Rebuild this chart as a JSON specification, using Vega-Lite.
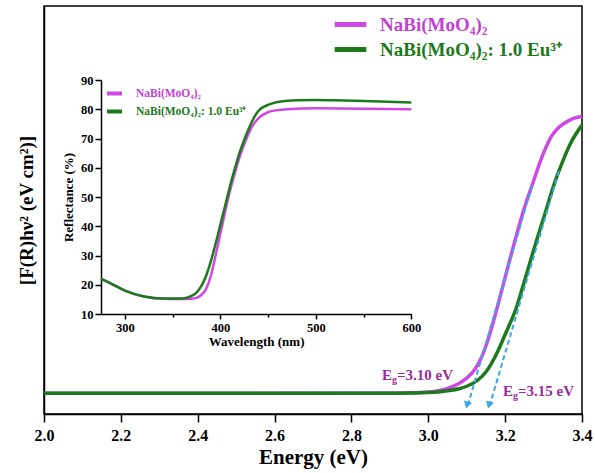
{
  "$schema": "https://vega.github.io/schema/vega-lite/v6.json",
  "width": 538,
  "height": 408,
  "autosize": {"type": "none"},
  "padding": {"left": 44, "top": 6, "right": 13, "bottom": 59},
  "background": "white",
  "config": {
    "view": {"stroke": "black", "strokeWidth": 1.5},
    "axis": {
      "domainColor": "black", "domainWidth": 1.5, "tickColor": "black", "tickWidth": 1.5,
      "labelFont": "Liberation Serif", "labelFontWeight": "bold", "labelColor": "black",
      "titleFont": "Liberation Serif", "titleFontWeight": "bold", "titleColor": "black",
      "grid": false
    },
    "legend": {"labelFont": "Liberation Serif", "labelFontWeight": "bold"},
    "text": {"font": "Liberation Serif", "fontWeight": "bold"}
  },
  "datasets": {
    "main": [
      {"s": "NaBi(MoO₄)₂", "e": 2.0, "f": 5.1},
      {"s": "NaBi(MoO₄)₂", "e": 2.5, "f": 5.1},
      {"s": "NaBi(MoO₄)₂", "e": 2.9, "f": 5.15},
      {"s": "NaBi(MoO₄)₂", "e": 2.95, "f": 5.2},
      {"s": "NaBi(MoO₄)₂", "e": 3.0, "f": 5.4},
      {"s": "NaBi(MoO₄)₂", "e": 3.03, "f": 5.8},
      {"s": "NaBi(MoO₄)₂", "e": 3.05, "f": 6.3},
      {"s": "NaBi(MoO₄)₂", "e": 3.08, "f": 7.5},
      {"s": "NaBi(MoO₄)₂", "e": 3.10, "f": 8.8},
      {"s": "NaBi(MoO₄)₂", "e": 3.12, "f": 10.8},
      {"s": "NaBi(MoO₄)₂", "e": 3.14, "f": 14.2},
      {"s": "NaBi(MoO₄)₂", "e": 3.16, "f": 19.6},
      {"s": "NaBi(MoO₄)₂", "e": 3.18, "f": 26.3},
      {"s": "NaBi(MoO₄)₂", "e": 3.20, "f": 33.5},
      {"s": "NaBi(MoO₄)₂", "e": 3.23, "f": 44},
      {"s": "NaBi(MoO₄)₂", "e": 3.25, "f": 50.5},
      {"s": "NaBi(MoO₄)₂", "e": 3.27, "f": 56},
      {"s": "NaBi(MoO₄)₂", "e": 3.30, "f": 64},
      {"s": "NaBi(MoO₄)₂", "e": 3.32, "f": 68},
      {"s": "NaBi(MoO₄)₂", "e": 3.34, "f": 70.3},
      {"s": "NaBi(MoO₄)₂", "e": 3.36, "f": 71.6},
      {"s": "NaBi(MoO₄)₂", "e": 3.38, "f": 72.5},
      {"s": "NaBi(MoO₄)₂", "e": 3.40, "f": 72.9},
      {"s": "NaBi(MoO₄)₂: 1.0 Eu³⁺", "e": 2.0, "f": 5.1},
      {"s": "NaBi(MoO₄)₂: 1.0 Eu³⁺", "e": 2.5, "f": 5.1},
      {"s": "NaBi(MoO₄)₂: 1.0 Eu³⁺", "e": 2.9, "f": 5.1},
      {"s": "NaBi(MoO₄)₂: 1.0 Eu³⁺", "e": 2.95, "f": 5.15},
      {"s": "NaBi(MoO₄)₂: 1.0 Eu³⁺", "e": 3.0, "f": 5.25},
      {"s": "NaBi(MoO₄)₂: 1.0 Eu³⁺", "e": 3.05, "f": 5.7},
      {"s": "NaBi(MoO₄)₂: 1.0 Eu³⁺", "e": 3.08, "f": 6.2},
      {"s": "NaBi(MoO₄)₂: 1.0 Eu³⁺", "e": 3.10, "f": 6.8},
      {"s": "NaBi(MoO₄)₂: 1.0 Eu³⁺", "e": 3.13, "f": 8.4},
      {"s": "NaBi(MoO₄)₂: 1.0 Eu³⁺", "e": 3.15, "f": 10.3},
      {"s": "NaBi(MoO₄)₂: 1.0 Eu³⁺", "e": 3.18, "f": 15.2},
      {"s": "NaBi(MoO₄)₂: 1.0 Eu³⁺", "e": 3.20, "f": 19.5},
      {"s": "NaBi(MoO₄)₂: 1.0 Eu³⁺", "e": 3.23, "f": 26.3},
      {"s": "NaBi(MoO₄)₂: 1.0 Eu³⁺", "e": 3.25, "f": 32.5},
      {"s": "NaBi(MoO₄)₂: 1.0 Eu³⁺", "e": 3.28, "f": 42},
      {"s": "NaBi(MoO₄)₂: 1.0 Eu³⁺", "e": 3.30, "f": 48},
      {"s": "NaBi(MoO₄)₂: 1.0 Eu³⁺", "e": 3.33, "f": 57},
      {"s": "NaBi(MoO₄)₂: 1.0 Eu³⁺", "e": 3.35, "f": 62},
      {"s": "NaBi(MoO₄)₂: 1.0 Eu³⁺", "e": 3.37, "f": 66.3},
      {"s": "NaBi(MoO₄)₂: 1.0 Eu³⁺", "e": 3.40, "f": 70.8}
    ],
    "tangents": [
      {"s": "NaBi(MoO₄)₂", "e1": 3.27, "f1": 56, "e2": 3.104, "f2": 2.5, "tip": 3.101, "tipf": 2.2},
      {"s": "NaBi(MoO₄)₂: 1.0 Eu³⁺", "e1": 3.34, "f1": 59.5, "e2": 3.161, "f2": 2.5, "tip": 3.158, "tipf": 2.2}
    ],
    "notes": [
      {"e": 2.8795, "f": 9.6, "a": "E", "b": "g", "c": "=3.10 eV"},
      {"e": 3.1944, "f": 5.6, "a": "E", "b": "g", "c": "=3.15 eV"}
    ],
    "refl": [
      {"s": "NaBi(MoO₄)₂", "w": 275, "r": 22},
      {"s": "NaBi(MoO₄)₂", "w": 285, "r": 20.5},
      {"s": "NaBi(MoO₄)₂", "w": 300, "r": 18},
      {"s": "NaBi(MoO₄)₂", "w": 320, "r": 16},
      {"s": "NaBi(MoO₄)₂", "w": 340, "r": 15.2},
      {"s": "NaBi(MoO₄)₂", "w": 360, "r": 15.1},
      {"s": "NaBi(MoO₄)₂", "w": 370, "r": 15.2},
      {"s": "NaBi(MoO₄)₂", "w": 375, "r": 15.5},
      {"s": "NaBi(MoO₄)₂", "w": 380, "r": 16.5},
      {"s": "NaBi(MoO₄)₂", "w": 385, "r": 18.5},
      {"s": "NaBi(MoO₄)₂", "w": 390, "r": 23},
      {"s": "NaBi(MoO₄)₂", "w": 395, "r": 30},
      {"s": "NaBi(MoO₄)₂", "w": 400, "r": 37.5},
      {"s": "NaBi(MoO₄)₂", "w": 405, "r": 45},
      {"s": "NaBi(MoO₄)₂", "w": 410, "r": 52},
      {"s": "NaBi(MoO₄)₂", "w": 415, "r": 58},
      {"s": "NaBi(MoO₄)₂", "w": 420, "r": 63.5},
      {"s": "NaBi(MoO₄)₂", "w": 425, "r": 68},
      {"s": "NaBi(MoO₄)₂", "w": 430, "r": 72},
      {"s": "NaBi(MoO₄)₂", "w": 435, "r": 75},
      {"s": "NaBi(MoO₄)₂", "w": 440, "r": 77},
      {"s": "NaBi(MoO₄)₂", "w": 450, "r": 79},
      {"s": "NaBi(MoO₄)₂", "w": 460, "r": 79.7},
      {"s": "NaBi(MoO₄)₂", "w": 470, "r": 80},
      {"s": "NaBi(MoO₄)₂", "w": 500, "r": 80.3},
      {"s": "NaBi(MoO₄)₂", "w": 550, "r": 80.2},
      {"s": "NaBi(MoO₄)₂", "w": 600, "r": 80},
      {"s": "NaBi(MoO₄)₂: 1.0 Eu³⁺", "w": 275, "r": 22},
      {"s": "NaBi(MoO₄)₂: 1.0 Eu³⁺", "w": 285, "r": 20.5},
      {"s": "NaBi(MoO₄)₂: 1.0 Eu³⁺", "w": 300, "r": 18},
      {"s": "NaBi(MoO₄)₂: 1.0 Eu³⁺", "w": 320, "r": 16},
      {"s": "NaBi(MoO₄)₂: 1.0 Eu³⁺", "w": 340, "r": 15.3},
      {"s": "NaBi(MoO₄)₂: 1.0 Eu³⁺", "w": 360, "r": 15.3},
      {"s": "NaBi(MoO₄)₂: 1.0 Eu³⁺", "w": 365, "r": 15.6},
      {"s": "NaBi(MoO₄)₂: 1.0 Eu³⁺", "w": 370, "r": 16.2},
      {"s": "NaBi(MoO₄)₂: 1.0 Eu³⁺", "w": 375, "r": 17.3},
      {"s": "NaBi(MoO₄)₂: 1.0 Eu³⁺", "w": 380, "r": 19.5},
      {"s": "NaBi(MoO₄)₂: 1.0 Eu³⁺", "w": 385, "r": 23},
      {"s": "NaBi(MoO₄)₂: 1.0 Eu³⁺", "w": 390, "r": 28},
      {"s": "NaBi(MoO₄)₂: 1.0 Eu³⁺", "w": 395, "r": 34},
      {"s": "NaBi(MoO₄)₂: 1.0 Eu³⁺", "w": 400, "r": 40.5},
      {"s": "NaBi(MoO₄)₂: 1.0 Eu³⁺", "w": 405, "r": 47},
      {"s": "NaBi(MoO₄)₂: 1.0 Eu³⁺", "w": 410, "r": 53.5},
      {"s": "NaBi(MoO₄)₂: 1.0 Eu³⁺", "w": 415, "r": 59.5},
      {"s": "NaBi(MoO₄)₂: 1.0 Eu³⁺", "w": 420, "r": 65},
      {"s": "NaBi(MoO₄)₂: 1.0 Eu³⁺", "w": 425, "r": 69.5},
      {"s": "NaBi(MoO₄)₂: 1.0 Eu³⁺", "w": 430, "r": 73.5},
      {"s": "NaBi(MoO₄)₂: 1.0 Eu³⁺", "w": 435, "r": 77},
      {"s": "NaBi(MoO₄)₂: 1.0 Eu³⁺", "w": 440, "r": 79.5},
      {"s": "NaBi(MoO₄)₂: 1.0 Eu³⁺", "w": 450, "r": 81.5},
      {"s": "NaBi(MoO₄)₂: 1.0 Eu³⁺", "w": 460, "r": 82.5},
      {"s": "NaBi(MoO₄)₂: 1.0 Eu³⁺", "w": 470, "r": 82.9},
      {"s": "NaBi(MoO₄)₂: 1.0 Eu³⁺", "w": 480, "r": 83.1},
      {"s": "NaBi(MoO₄)₂: 1.0 Eu³⁺", "w": 500, "r": 83.2},
      {"s": "NaBi(MoO₄)₂: 1.0 Eu³⁺", "w": 520, "r": 83.1},
      {"s": "NaBi(MoO₄)₂: 1.0 Eu³⁺", "w": 550, "r": 82.8},
      {"s": "NaBi(MoO₄)₂: 1.0 Eu³⁺", "w": 600, "r": 82.3}
    ]
  },
  "layer": [
    {
      "layer": [
        {
          "data": {"name": "main"},
          "mark": {"type": "line", "strokeWidth": 3.5, "interpolate": "monotone"},
          "encoding": {
            "x": {"field": "e", "type": "quantitative",
              "scale": {"domain": [2.0, 3.4], "nice": false, "zero": false},
              "axis": {"orient": "bottom", "title": "Energy (eV)", "titleFontSize": 21, "titlePadding": 3,
                "values": [2.0, 2.1, 2.2, 2.3, 2.4, 2.5, 2.6, 2.7, 2.8, 2.9, 3.0, 3.1, 3.2, 3.3, 3.4],
                "labelExpr": "round(datum.value*10)%2==0 ? format(datum.value, '.1f') : ''",
                "labelFontSize": 16, "labelPadding": 5, "labelFlush": false,
                "tickSize": {"condition": {"test": "round(datum.value*10)%2==1", "value": 5}, "value": 8}}},
            "y": {"field": "f", "type": "quantitative",
              "scale": {"domain": [0, 100], "nice": false},
              "axis": {"orient": "left", "title": "[F(R)hν² (eV cm²)]", "titleFontSize": 19, "titlePadding": 8,
                "labels": false, "ticks": false}},
            "color": {"field": "s", "type": "nominal",
              "scale": {"domain": ["NaBi(MoO₄)₂", "NaBi(MoO₄)₂: 1.0 Eu³⁺"], "range": ["#cf48e3", "#1c7a1c"]},
              "legend": {"orient": "none", "legendX": 288, "legendY": 6, "title": null, "padding": 0,
                "symbolType": "stroke", "symbolSize": 1000, "symbolStrokeWidth": 5, "clipHeight": 25,
                "labelFontSize": 19, "labelOffset": 11, "rowPadding": 0, "labelLimit": 300,
                "encode": {"labels": {"update": {"fill": {"signal": "datum.value === 'NaBi(MoO₄)₂' ? '#c23fd6' : '#1c7a1c'"}}}}}}
          }
        },
        {
          "data": {"name": "tangents"},
          "mark": {"type": "rule", "strokeWidth": 2, "strokeDash": [5, 3], "color": "#3ea6e6"},
          "encoding": {
            "x": {"field": "e1", "type": "quantitative"},
            "y": {"field": "f1", "type": "quantitative"},
            "x2": {"field": "e2"},
            "y2": {"field": "f2"}
          }
        },
        {
          "data": {"name": "tangents"},
          "mark": {"type": "point", "shape": "triangle-down", "filled": true, "size": 70, "color": "#3ea6e6", "angle": 16, "opacity": 1},
          "encoding": {
            "x": {"field": "tip", "type": "quantitative"},
            "y": {"field": "tipf", "type": "quantitative"}
          }
        },
        {
          "data": {"name": "notes"},
          "mark": {"type": "text", "align": "left", "baseline": "middle", "fontSize": 15, "color": "#9a2c9c"},
          "encoding": {
            "x": {"field": "e", "type": "quantitative"},
            "y": {"field": "f", "type": "quantitative"},
            "text": {"field": "a"}
          }
        },
        {
          "data": {"name": "notes"},
          "mark": {"type": "text", "align": "left", "baseline": "middle", "fontSize": 10, "dx": 10, "dy": 5, "color": "#9a2c9c"},
          "encoding": {
            "x": {"field": "e", "type": "quantitative"},
            "y": {"field": "f", "type": "quantitative"},
            "text": {"field": "b"}
          }
        },
        {
          "data": {"name": "notes"},
          "mark": {"type": "text", "align": "left", "baseline": "middle", "fontSize": 15, "dx": 15, "color": "#9a2c9c"},
          "encoding": {
            "x": {"field": "e", "type": "quantitative"},
            "y": {"field": "f", "type": "quantitative"},
            "text": {"field": "c"}
          }
        }
      ]
    },
    {
      "layer": [
        {
          "mark": {"type": "rect", "fill": "white", "stroke": "black", "strokeWidth": 1.5},
          "encoding": {
            "x": {"datum": 275, "type": "quantitative"},
            "x2": {"datum": 600},
            "y": {"datum": 10, "type": "quantitative"},
            "y2": {"datum": 90}
          }
        },
        {
          "data": {"name": "refl"},
          "mark": {"type": "line", "strokeWidth": 2.5, "interpolate": "monotone"},
          "encoding": {
            "x": {"field": "w", "type": "quantitative",
              "scale": {"domain": [275, 600], "nice": false, "zero": false, "range": [57, 367.3]},
              "axis": {"orient": "bottom", "offset": -100, "title": "Wavelength (nm)", "titleFontSize": 13, "titlePadding": 2,
                "values": [300, 350, 400, 450, 500, 550, 600],
                "labelExpr": "datum.value % 100 == 0 ? format(datum.value, 'd') : ''",
                "labelFontSize": 12.5, "labelPadding": 2, "labelFlush": false,
                "tickSize": {"condition": {"test": "datum.value % 100 != 0", "value": 3}, "value": 5}}},
            "y": {"field": "r", "type": "quantitative",
              "scale": {"domain": [10, 90], "nice": false, "zero": false, "range": [308, 74]},
              "axis": {"orient": "left", "offset": -57, "title": "Reflectance (%)", "titleFontSize": 13, "titlePadding": 5,
                "values": [10, 15, 20, 25, 30, 35, 40, 45, 50, 55, 60, 65, 70, 75, 80, 85, 90],
                "labelExpr": "datum.value % 10 == 0 ? format(datum.value, 'd') : ''",
                "labelFontSize": 12.5, "labelPadding": 2,
                "tickSize": {"condition": {"test": "datum.value % 10 != 0", "value": 3}, "value": 6}}},
            "color": {"field": "s", "type": "nominal",
              "scale": {"domain": ["NaBi(MoO₄)₂", "NaBi(MoO₄)₂: 1.0 Eu³⁺"], "range": ["#cf48e3", "#1c7a1c"]},
              "legend": {"orient": "none", "legendX": 61, "legendY": 78, "title": null, "padding": 0,
                "symbolType": "stroke", "symbolSize": 225, "symbolStrokeWidth": 4,
                "labelFontSize": 11.5, "labelOffset": 12, "rowPadding": -1, "labelLimit": 300,
                "encode": {"labels": {"update": {"fill": {"signal": "datum.value === 'NaBi(MoO₄)₂' ? '#c23fd6' : '#1c7a1c'"}}}}}}
          }
        }
      ]
    }
  ],
  "resolve": {"scale": {"x": "independent", "y": "independent", "color": "independent"}}
}
